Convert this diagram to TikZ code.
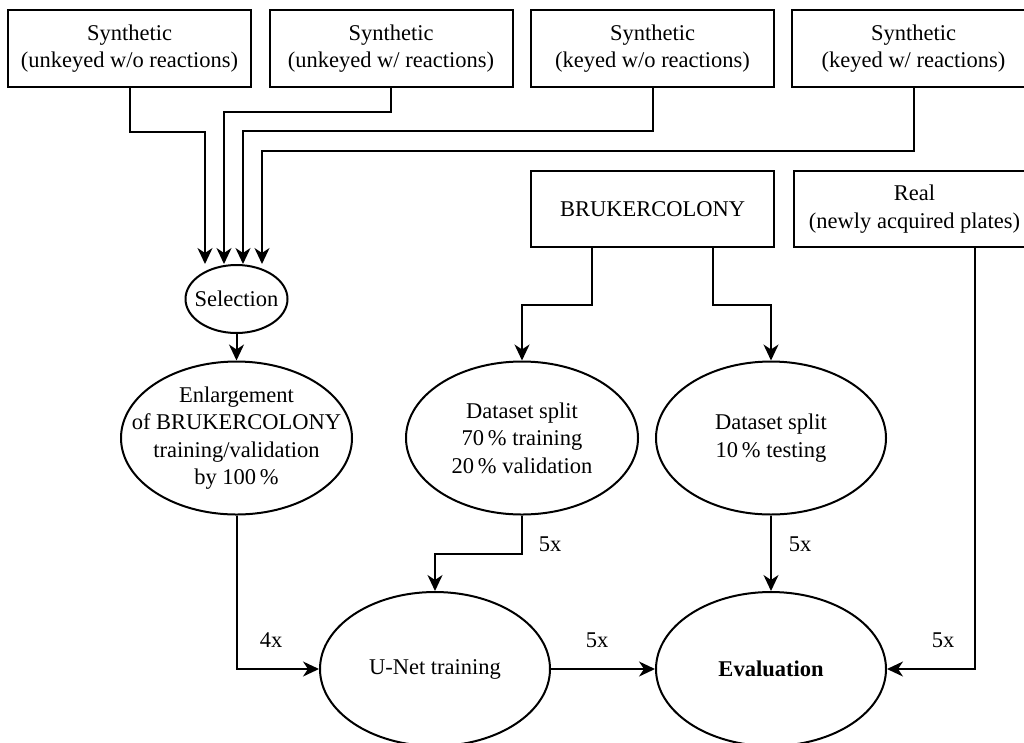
\documentclass[tikz,border=0pt]{standalone}
\usepackage{fontspec}
\setmainfont{Liberation Serif}
\usetikzlibrary{shapes.geometric,arrows.meta}
\begin{document}
\begin{tikzpicture}[x=1pt,y=-1pt,
  every node/.style={font=\fontsize{22.5}{27.5}\selectfont},
  box/.style={draw,line width=2pt,rectangle,inner sep=0pt,align=center,minimum height=77pt},
  oval/.style={draw,line width=2pt,ellipse,inner xsep=-60pt,inner ysep=-30pt,align=center},
  arr/.style={line width=2pt,-{Stealth[length=16pt,width=15pt,inset=5pt]}},
  lbl/.style={inner sep=0pt}]
\useasboundingbox (0,0) rectangle (1024,742);
% top boxes
\node[box,minimum width=243pt] (s1) at (129.5,48.5) {Synthetic\\(unkeyed w/o reactions)};
\node[box,minimum width=243pt] (s2) at (391,48.5) {Synthetic\\(unkeyed w/ reactions)};
\node[box,minimum width=243pt] (s3) at (652.5,48.5) {Synthetic\\(keyed w/o reactions)};
\node[box,minimum width=243pt] (s4) at (913.5,48.5) {Synthetic\\(keyed w/ reactions)};
\node[box,minimum width=243pt,minimum height=76pt] (bruker) at (652.5,209) {BRUKERCOLONY};
\node[box,minimum width=241pt,minimum height=76pt] (real) at (914.5,209) {Real\\(newly acquired plates)};
% ellipses
\node[oval,inner xsep=-10pt,inner ysep=-5pt,minimum width=102pt,minimum height=68pt] (sel) at (236.5,299) {Selection};
\node[oval,minimum width=231pt,minimum height=153pt] (enl) at (236.5,438) {Enlargement\\of BRUKERCOLONY\\training/validation\\by 100\,\%};
\node[oval,minimum width=232pt,minimum height=153pt] (ds1) at (522,438) {Dataset split\\70\,\% training\\20\,\% validation};
\node[oval,minimum width=230pt,minimum height=153pt] (ds2) at (771,438) {Dataset split\\10\,\% testing};
\node[oval,minimum width=230pt,minimum height=154pt] (unet) at (435,669) {U-Net training};
\node[oval,minimum width=230pt,minimum height=154pt] (eval) at (771,669) {\textbf{Evaluation}};
% junction coordinates
\coordinate (j1) at (205,132);
\coordinate (j2) at (224,112);
\coordinate (j3) at (243,131);
\coordinate (j4) at (262,151);
% connectors into selection
\draw[arr] (s1.south) |- (j1) -- (j1 |- sel.north);
\draw[arr] (s2.south) |- (j2) -- (j2 |- sel.north);
\draw[arr] (s3.south) |- (j3) -- (j3 |- sel.north);
\draw[arr] (s4.south) |- (j4) -- (j4 |- sel.north);
\draw[arr] (sel.south) -- (enl.north);
% bruker splits
\draw[arr] ([xshift=-60.5pt]bruker.south) -- ++(0,57) -| (ds1.north);
\draw[arr] ([xshift=60.5pt]bruker.south) -- ++(0,57) -| (ds2.north);
% to U-Net and evaluation
\draw[arr] (enl.south) |- (unet.west);
\draw[arr] (ds1.south) -- ++(0,38) -| (unet.north);
\draw[arr] (ds2.south) -- (eval.north);
\draw[arr] (unet.east) -- (eval.west);
\draw[arr] ([xshift=60.5pt]real.south) |- (eval.east);
% labels
\node[lbl] (l1) at (271,640) {4x};
\node[lbl] (l2) at (550,544) {5x};
\node[lbl] (l3) at (800,544) {5x};
\node[lbl] (l4) at (597,640) {5x};
\node[lbl] (l5) at (943,640) {5x};
\end{tikzpicture}
\end{document}
